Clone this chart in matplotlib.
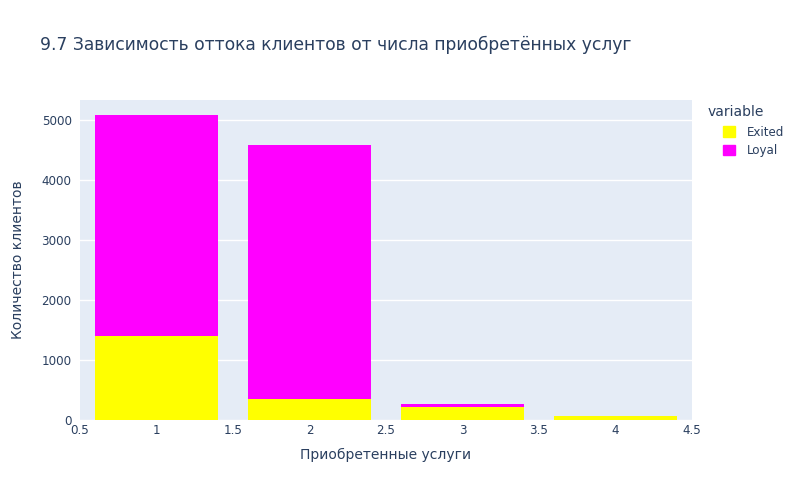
import matplotlib
matplotlib.use("Agg")
import matplotlib.pyplot as plt
from matplotlib.patches import Patch

products = [1, 2, 3, 4]
exited = [1409, 348, 220, 60]
loyal = [3675, 4242, 46, 0]

text_color = "#2a3f5f"
bg = "#E5ECF6"

fig = plt.figure(figsize=(8, 5), dpi=100)
ax = fig.add_axes([0.1, 0.16, 0.765, 0.64])
ax.set_facecolor(bg)

ax.bar(products, exited, width=0.8, color="#FFFF00", label="Exited", zorder=3)
ax.bar(products, loyal, width=0.8, bottom=exited, color="#FF00FF", label="Loyal", zorder=3)

ax.set_xlim(0.5, 4.5)
ax.set_ylim(0, 5340)
ax.set_xticks([0.5, 1, 1.5, 2, 2.5, 3, 3.5, 4, 4.5])
ax.set_xticklabels(["0.5", "1", "1.5", "2", "2.5", "3", "3.5", "4", "4.5"])
ax.set_yticks([0, 1000, 2000, 3000, 4000, 5000])
ax.grid(axis="y", color="white", linewidth=1, zorder=0)
for s in ax.spines.values():
    s.set_visible(False)
ax.tick_params(axis="x", length=0, colors=text_color, labelsize=8.6, pad=3)
ax.tick_params(axis="y", length=0, colors=text_color, labelsize=8.6, pad=6)

ax.set_xlabel("Приобретенные услуги", fontsize=10, color=text_color, labelpad=8)
ax.set_ylabel("Количество клиентов", fontsize=10, color=text_color, labelpad=12)

fig.text(0.05, 0.91, "9.7 Зависимость оттока клиентов от числа приобретённых услуг",
         fontsize=12.3, color=text_color, va="center")

# legend title drawn apart so the entries can sit indented under it
fig.text(0.885, 0.775, "variable", fontsize=10, color=text_color, va="center")
handles = [Patch(color="#FFFF00", label="Exited"), Patch(color="#FF00FF", label="Loyal")]
leg = fig.legend(handles=handles, loc="upper left",
                 bbox_to_anchor=(0.89, 0.77), frameon=False, fontsize=8.6,
                 handlelength=1.0, handleheight=1.0,
                 handletextpad=1.0, labelspacing=0.45)
for t in leg.get_texts():
    t.set_color(text_color)

fig.savefig("out.png", dpi=100)
